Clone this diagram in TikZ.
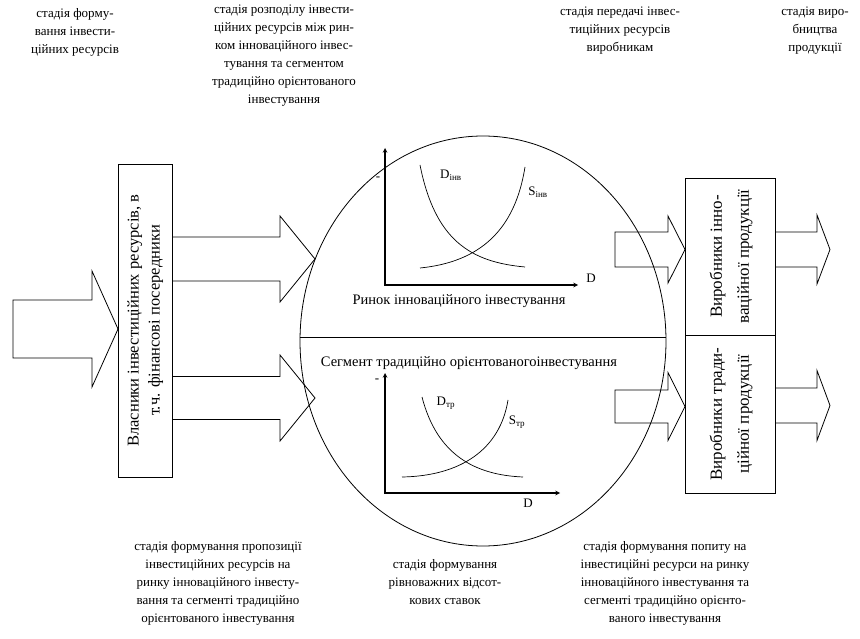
\documentclass[tikz,border=0pt]{standalone}
\usepackage{fontspec}
\setmainfont{Liberation Serif}
\usepackage{graphicx}
\usetikzlibrary{shapes.geometric, arrows, calc}
\tikzstyle{vertbox} = [draw, line width=0.8pt, inner sep=0, outer sep=0]
\tikzstyle{stage} = [align=center, inner sep=0, font=\fontsize{13}{18}\selectfont]
\tikzstyle{marketlabel} = [inner sep=0, font=\fontsize{14.5}{16}\selectfont]
\tikzstyle{curvelabel} = [inner sep=0, font=\fontsize{13}{15}\selectfont]
\tikzstyle{thinline} = [line width=0.8pt]
\tikzstyle{axis} = [line width=1.1pt, <->, >=stealth]
\tikzstyle{curve} = [line width=0.7pt]
\newcommand{\verttext}[1]{\rotatebox{90}{\begin{tabular}{@{}c@{}}#1\end{tabular}}}
% from, to, shaft half height, head half height, head length, closing
\newcommand{\blockarrow}[6]{
    \draw[thinline] let \p1=(#1), \p2=(#2) in
        (\x1,\y2+#3) -- (\x2-#5,\y2+#3) -- (\x2-#5,\y2+#4) -- (\x2,\y2)
        -- (\x2-#5,\y2-#4) -- (\x2-#5,\y2-#3) -- (\x1,\y2-#3) #6;
}

\begin{document}
\begin{tikzpicture}[x=1pt, y=-1pt]
    \useasboundingbox (0,0) rectangle (860,639);

    % owners, market, producers
    \node[vertbox, minimum width=54pt, minimum height=313pt, font=\fontsize{16.5}{21}\selectfont] (owners) at (145,320.5) {\verttext{Власники інвестиційних ресурсів, в\\т.ч. фінансові посередники}};
    \node[draw, thinline, ellipse, minimum width=366pt, minimum height=410pt] (market) at (483,341) {};
    \node[vertbox, minimum width=90pt, minimum height=157pt, font=\fontsize{17}{27}\selectfont] (innov) at (730,256.5) {\verttext{Виробники інно-\\ваційної продукції}};
    \node[vertbox, minimum width=90pt, minimum height=158pt, font=\fontsize{17}{27}\selectfont] (trad) at (730,414) {\verttext{Виробники тради-\\ційної продукції}};
    \coordinate (divide) at (483,337);
    \draw[thinline] (market.west |- divide) -- (market.east |- divide);

    \node[marketlabel] (innovmkt) at (459,301) {Ринок інноваційного інвестування};
    \node[marketlabel] (tradmkt) at (469,363) {Сегмент традиційно орієнтованогоінвестування};

    % block arrows
    \coordinate (srcin) at (13,329);
    \coordinate (mktin1) at (315,259);
    \coordinate (mktin2) at (315,398);
    \coordinate (mktout1) at (615,249.5);
    \coordinate (mktout2) at (615,406.5);
    \coordinate (prod1) at (830,249.5);
    \coordinate (prod2) at (830,405.5);
    \blockarrow{srcin}{owners.west |- srcin}{29pt}{58pt}{26pt}{-- cycle}
    \blockarrow{owners.east |- mktin1}{mktin1}{22pt}{43pt}{35pt}{}
    \blockarrow{owners.east |- mktin2}{mktin2}{21.5pt}{43pt}{35pt}{}
    \blockarrow{mktout1}{innov.west |- mktout1}{17.5pt}{33.5pt}{17pt}{-- cycle}
    \blockarrow{mktout2}{trad.west |- mktout2}{16.5pt}{34pt}{17pt}{-- cycle}
    \blockarrow{innov.east |- prod1}{prod1}{17.5pt}{34.5pt}{13pt}{}
    \blockarrow{trad.east |- prod2}{prod2}{17.5pt}{35pt}{13pt}{}

    % innovative market chart
    \coordinate (yA) at (385,148);
    \coordinate (xA) at (578,285);
    \draw[axis] (yA) |- (xA);
    \draw[curve] (420,165) .. controls (435,240) and (470,262) .. (525,267);
    \draw[curve] (420,268) .. controls (480,262) and (515,230) .. (525,167);
    \node[curvelabel] (dA) at (451,175) {D\textsubscript{інв}};
    \node[curvelabel] (sA) at (538,192) {S\textsubscript{інв}};
    \node[curvelabel] (qA) at (591,278) {D};
    \node[curvelabel] (rA) at (378,179) {-};

    % traditional segment chart
    \coordinate (yB) at (385,373);
    \coordinate (xB) at (560,493);
    \draw[axis] (yB) |- (xB);
    \draw[curve] (422,397) .. controls (437,455) and (475,475) .. (523,477);
    \draw[curve] (402,477) .. controls (460,476) and (500,450) .. (508,400);
    \node[curvelabel] (dB) at (446,403) {D\textsubscript{тр}};
    \node[curvelabel] (sB) at (517,422) {S\textsubscript{тр}};
    \node[curvelabel] (qB) at (528,503) {D};
    \node[curvelabel] (rB) at (377,381) {-};

    % stages
    \node[stage, anchor=north] (st1) at (75,8) {стадія форму-\\вання інвести-\\ційних ресурсів};
    \node[stage, anchor=north] (st2) at (284,5) {стадія розподілу інвести-\\ційних ресурсів між рин-\\ком інноваційного інвес-\\тування та сегментом\\традиційно орієнтованого\\інвестування};
    \node[stage, anchor=north] (st3) at (620,7) {стадія передачі інвес-\\тиційних ресурсів\\виробникам};
    \node[stage, anchor=north] (st4) at (815,7) {стадія виро-\\бництва\\продукції};
    \node[stage, anchor=north] (st5) at (218,541) {стадія формування пропозиції\\інвестиційних ресурсів на\\ринку інноваційного інвесту-\\вання та сегменті традиційно\\орієнтованого інвестування};
    \node[stage, anchor=north] (st6) at (445,559) {стадія формування\\рівноважних відсот-\\кових ставок};
    \node[stage, anchor=north] (st7) at (665,541) {стадія формування попиту на\\інвестиційні ресурси на ринку\\інноваційного інвестування та\\сегменті традиційно орієнто-\\ваного інвестування};
\end{tikzpicture}
\end{document}
